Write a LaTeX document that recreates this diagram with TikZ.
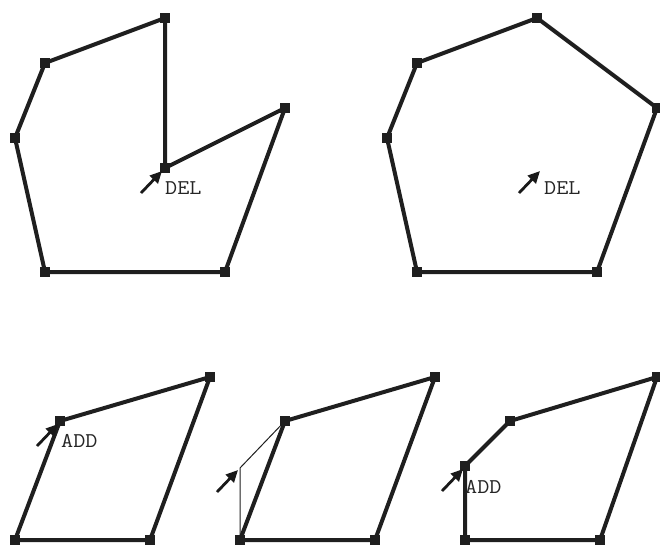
\documentclass[tikz,border=0pt]{standalone}
\usepackage{graphicx}
\usetikzlibrary{arrows.meta}
\newcommand{\wtt}[1]{\scalebox{1.12}[1]{#1}}
\tikzset{
  vtx/.style={fill=black!88, draw=none, minimum size=9.5pt, inner sep=0pt, outer sep=0pt, rectangle},
  edge/.style={line width=4pt, draw=black!88, line join=miter},
  thinedge/.style={line width=1pt, draw=black!88},
  ptr/.style={line width=2.8pt, draw=black!90, -{Triangle[length=12pt,width=11pt]}},
  lbl/.style={font=\ttfamily\fontsize{21}{21}\selectfont, inner sep=0pt, anchor=west, text=black!85}
}
\begin{document}
\begin{tikzpicture}[x=1pt,y=-1pt]
\useasboundingbox (0,0) rectangle (660,544);
% ---- top left
\coordinate (a1) at (165,18);
\coordinate (a2) at (45,63);
\coordinate (a3) at (15,138);
\coordinate (a4) at (45,272);
\coordinate (a5) at (225,272);
\coordinate (a6) at (285,108);
\coordinate (a7) at (165,168);
\draw[edge] (a1) -- (a2) -- (a3) -- (a4) -- (a5) -- (a6) -- (a7) -- cycle;
\foreach \v in {a1,a2,a3,a4,a5,a6,a7} \node[vtx] at (\v) {};
\coordinate (p1) at (141,193);
\draw[ptr] (p1) -- (162,171);
\node[lbl] (t1) at (165,188) {\wtt{DEL}};
% ---- top right
\coordinate (b1) at (537,18);
\coordinate (b2) at (417,63);
\coordinate (b3) at (387,138);
\coordinate (b4) at (417,272);
\coordinate (b5) at (597,272);
\coordinate (b6) at (657,108);
\draw[edge] (b1) -- (b2) -- (b3) -- (b4) -- (b5) -- (b6) -- cycle;
\foreach \v in {b1,b2,b3,b4,b5,b6} \node[vtx] at (\v) {};
\coordinate (p2) at (519,193);
\coordinate (q2) at (540,171);
\draw[ptr] (p2) -- (q2);
\node[lbl] (t2) at (544,188) {\wtt{DEL}};
% ---- bottom left
\coordinate (c1) at (15,540);
\coordinate (c2) at (60,421);
\coordinate (c3) at (210,377);
\coordinate (c4) at (150,540);
\draw[edge] (c1) -- (c2) -- (c3) -- (c4) -- cycle;
\foreach \v in {c1,c2,c3,c4} \node[vtx] at (\v) {};
\coordinate (p3) at (37,446);
\draw[ptr] (p3) -- (58,424);
\node[lbl] (t3) at (61,441) {\wtt{ADD}};
% ---- bottom middle
\coordinate (d1) at (240,540);
\coordinate (d2) at (285,421);
\coordinate (d3) at (435,377);
\coordinate (d4) at (375,540);
\coordinate (d5) at (240,468);
\draw[thinedge] (d1) -- (d5) -- (d2);
\draw[edge] (d1) -- (d2) -- (d3) -- (d4) -- cycle;
\foreach \v in {d1,d2,d3,d4} \node[vtx] at (\v) {};
\coordinate (p4) at (217,492);
\draw[ptr] (p4) -- (238,470);
% ---- bottom right
\coordinate (e1) at (465,540);
\coordinate (e2) at (465,466);
\coordinate (e3) at (510,421);
\coordinate (e4) at (657,377);
\coordinate (e5) at (600,540);
\draw[edge] (e1) -- (e2) -- (e3) -- (e4) -- (e5) -- cycle;
\foreach \v in {e1,e2,e3,e4,e5} \node[vtx] at (\v) {};
\coordinate (p5) at (442,491);
\draw[ptr] (p5) -- (463,469);
\node[lbl] (t5) at (465,487) {\wtt{ADD}};
\end{tikzpicture}
\end{document}
